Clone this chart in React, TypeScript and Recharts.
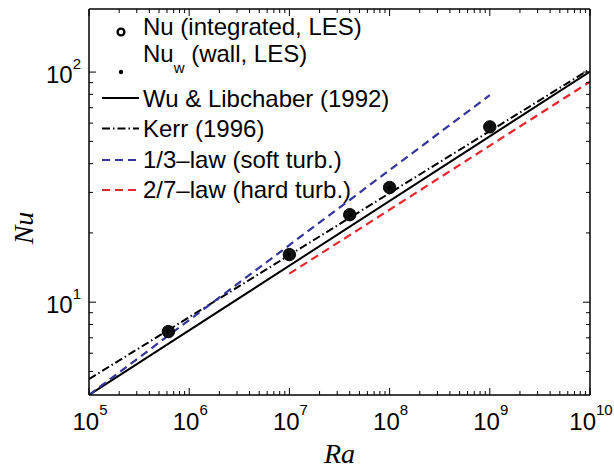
import React from 'react';
import { ComposedChart, Line, Scatter, XAxis, YAxis, Customized } from 'recharts';

// LES data points (Ra, Nu)
const raPoints = [6.2e5, 1e7, 4e7, 1e8, 1e9];
const nuIntegrated = [7.45, 16.1, 24.0, 31.5, 57.8];
const nuWall = [7.45, 16.1, 24.0, 31.5, 57.8];

// Reference correlations (end points)
const wuRa = [1e5, 1e10];
const wuNu = [3.95, 100.5];
const kerrRa = [1e5, 1e10];
const kerrNu = [4.63, 103];
const softRa = [1e5, 1e9];
const softNu = [3.95, 79.4];
const hardRa = [1e7, 1e10];
const hardNu = [13.3, 90.8];

// Ticks
const xMajorTicks = [1e5, 1e6, 1e7, 1e8, 1e9, 1e10];
const xTickExponents = ['5', '6', '7', '8', '9', '10'];
const yMajorTicks = [10, 100];
const yTickExponents = ['1', '2'];
const minorMultipliers = [2, 3, 4, 5, 6, 7, 8, 9];
const yLowMinor = [5, 6, 7, 8, 9];

const legendLabels = [
  'Nu (integrated, LES)',
  'Nu',
  'Wu & Libchaber (1992)',
  'Kerr (1996)',
  '1/3\u2013law (soft turb.)',
  '2/7\u2013law (hard turb.)',
];

const xTicks = [
  ...xMajorTicks,
  ...xMajorTicks.slice(0, -1).flatMap((m) => minorMultipliers.map((k) => k * m)),
].sort((a, b) => a - b);
const yTicks = [...yLowMinor, ...yMajorTicks, ...minorMultipliers.map((k) => k * 10)].sort((a, b) => a - b);

const toPts = (xs: number[], ys: number[]) => xs.map((x, i) => ({ ra: x, nu: ys[i] }));

const BLUE = '#34349a';
const RED = '#e5262c';
const FONT = '"Liberation Sans", Arial, Helvetica, sans-serif';
const SERIF = '"Liberation Serif", "Times New Roman", serif';

const TICK_COLOR = '#000';

const makeTick = (side: 'bottom' | 'top' | 'left' | 'right', majors: number[], exps: string[] | null) => (props: any) => {
  const { x, y, payload } = props;
  const v = payload.value;
  const idx = majors.indexOf(v);
  const len = idx >= 0 ? 7 : 4;
  let line;
  if (side === 'bottom') line = <line x1={x} x2={x} y1={y} y2={y - len} stroke={TICK_COLOR} strokeWidth={1} />;
  else if (side === 'top') line = <line x1={x} x2={x} y1={y} y2={y + len} stroke={TICK_COLOR} strokeWidth={1} />;
  else if (side === 'left') line = <line x1={x} x2={x + len} y1={y} y2={y} stroke={TICK_COLOR} strokeWidth={1} />;
  else line = <line x1={x} x2={x - len} y1={y} y2={y} stroke={TICK_COLOR} strokeWidth={1} />;
  let label = null;
  if (exps && idx >= 0) {
    if (side === 'bottom') {
      label = (
        <text x={x + 1} y={y + 34.5} textAnchor="middle" fontFamily={FONT} fontSize={24} fill="#000">
          10<tspan dy={-15} fontSize={15}>{exps[idx]}</tspan>
        </text>
      );
    } else if (side === 'left') {
      label = (
        <text x={x - 8} y={y + 11} textAnchor="end" fontFamily={FONT} fontSize={24} fill="#000">
          10<tspan dy={-14} fontSize={15}>{exps[idx]}</tspan>
        </text>
      );
    }
  }
  return (
    <g>
      {line}
      {label}
    </g>
  );
};

const LegendBox = () => {
  const x1 = 102;
  const x2 = 139;
  const tx = 143;
  return (
    <g fontFamily={FONT} fontSize={24} fill="#000">
      <circle cx={121} cy={32} r={3.4} fill="none" stroke="#000" strokeWidth={2.4} />
      <text x={tx} y={35}>{legendLabels[0]}</text>
      <circle cx={121} cy={72} r={2.2} fill="#000" />
      <text x={tx} y={62}>
        {legendLabels[1]}
        <tspan dy={11} fontSize={15}>w</tspan>
        <tspan dy={-11}> (wall, LES)</tspan>
      </text>
      <line x1={x1} x2={x2} y1={98} y2={98} stroke="#000" strokeWidth={2} />
      <text x={tx} y={106.5}>{legendLabels[2]}</text>
      <line x1={x1} x2={x2} y1={128.5} y2={128.5} stroke="#000" strokeWidth={2} strokeDasharray="8 3 1.5 3" />
      <text x={tx} y={137}>{legendLabels[3]}</text>
      <line x1={x1} x2={x2} y1={160} y2={160} stroke={BLUE} strokeWidth={2.2} strokeDasharray="8 5" />
      <text x={tx} y={168}>{legendLabels[4]}</text>
      <line x1={x1} x2={x2} y1={190} y2={190} stroke={RED} strokeWidth={2.2} strokeDasharray="8 5" />
      <text x={tx} y={198}>{legendLabels[5]}</text>
      <text x={33} y={228} transform="rotate(-90 33 228)" textAnchor="middle" fontFamily={SERIF} fontStyle="italic" fontSize={28}>
        Nu
      </text>
      <text x={339.5} y={463} textAnchor="middle" fontFamily={SERIF} fontStyle="italic" fontSize={28}>
        Ra
      </text>
    </g>
  );
};

const DotShape = (props: any) => {
  const { cx, cy } = props;
  if (cx == null || cy == null) return null;
  return <circle cx={cx} cy={cy} r={6.2} fill="#111" stroke="#000" strokeWidth={1} />;
};

const StarShape = (props: any) => {
  const { cx, cy } = props;
  if (cx == null || cy == null) return null;
  return <circle cx={cx} cy={cy} r={2} fill="#000" />;
};

export default function App() {
  const xDomain: [number, number] = [1e5, 1e10];
  const yDomain: [number, number] = [3.95, 188];
  return (
    <div style={{ position: 'absolute', left: 0, top: 0, background: '#fff' }}>
      <ComposedChart width={614} height={468} margin={{ top: 4, right: 19, bottom: 43, left: 49 }}>
        <XAxis
          xAxisId="b"
          dataKey="ra"
          type="number"
          scale="log"
          domain={xDomain}
          allowDataOverflow
          ticks={xTicks}
          interval={0}
          height={30}
          tickSize={0}
          tickMargin={0}
          tickLine={false}
          axisLine={{ stroke: '#000', strokeWidth: 1.5 }}
          tick={makeTick('bottom', xMajorTicks, xTickExponents)}
        />
        <XAxis
          xAxisId="t"
          orientation="top"
          dataKey="ra"
          type="number"
          scale="log"
          domain={xDomain}
          allowDataOverflow
          ticks={xTicks}
          interval={0}
          height={5}
          tickSize={0}
          tickMargin={0}
          tickLine={false}
          axisLine={{ stroke: '#000', strokeWidth: 1.5 }}
          tick={makeTick('top', xMajorTicks, null)}
        />
        <YAxis
          yAxisId="l"
          dataKey="nu"
          type="number"
          scale="log"
          domain={yDomain}
          allowDataOverflow
          ticks={yTicks}
          interval={0}
          width={40}
          tickSize={0}
          tickMargin={0}
          tickLine={false}
          axisLine={{ stroke: '#000', strokeWidth: 1.5 }}
          tick={makeTick('left', yMajorTicks, yTickExponents)}
        />
        <YAxis
          yAxisId="r"
          orientation="right"
          dataKey="nu"
          type="number"
          scale="log"
          domain={yDomain}
          allowDataOverflow
          ticks={yTicks}
          interval={0}
          width={5}
          tickSize={0}
          tickMargin={0}
          tickLine={false}
          axisLine={{ stroke: '#000', strokeWidth: 1.5 }}
          tick={makeTick('right', yMajorTicks, null)}
        />
        <Line xAxisId="b" yAxisId="l" data={toPts(wuRa, wuNu)} dataKey="nu" stroke="#000" strokeWidth={2} dot={false} isAnimationActive={false} />
        <Line xAxisId="b" yAxisId="l" data={toPts(kerrRa, kerrNu)} dataKey="nu" stroke="#000" strokeWidth={2} strokeDasharray="8 3 1.5 3" dot={false} isAnimationActive={false} />
        <Line xAxisId="b" yAxisId="l" data={toPts(softRa, softNu)} dataKey="nu" stroke={BLUE} strokeWidth={2.2} strokeDasharray="8 5" dot={false} isAnimationActive={false} />
        <Line xAxisId="b" yAxisId="l" data={toPts(hardRa, hardNu)} dataKey="nu" stroke={RED} strokeWidth={2.2} strokeDasharray="8 5" dot={false} isAnimationActive={false} />
        <Scatter xAxisId="b" yAxisId="l" data={toPts(raPoints, nuIntegrated)} dataKey="nu" shape={DotShape} isAnimationActive={false} />
        <Scatter xAxisId="b" yAxisId="l" data={toPts(raPoints, nuWall)} dataKey="nu" shape={StarShape} isAnimationActive={false} />
        <Customized component={LegendBox} />
      </ComposedChart>
    </div>
  );
}
